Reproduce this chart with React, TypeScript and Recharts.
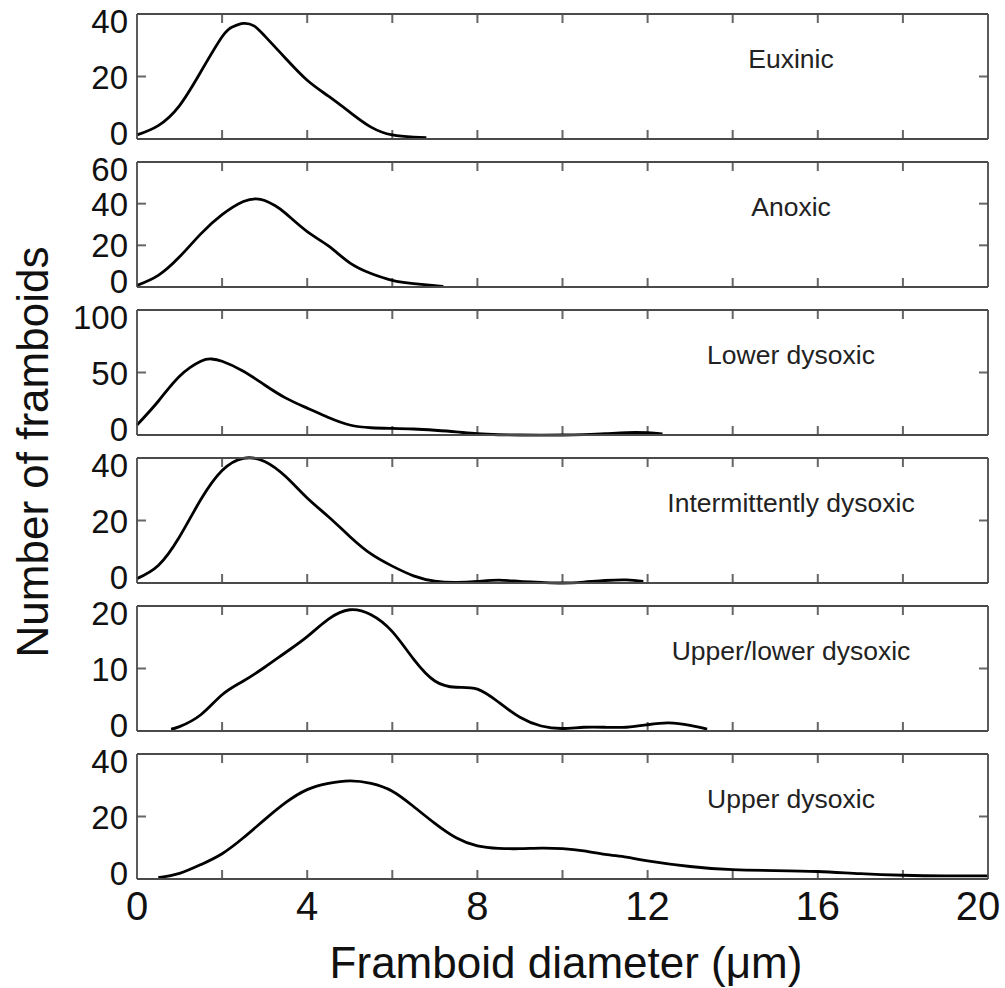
import React from 'react';
import { LineChart, Line, XAxis, YAxis, ReferenceLine } from 'recharts';

// x ticks every 2 µm, labels every 4 µm (bottom panel only)
const xTicks = [0, 2, 4, 6, 8, 10, 12, 14, 16, 18, 20];

// Euxinic
const euxinicX = [0, 0.5, 1, 1.5, 2, 2.25, 2.5, 2.75, 3, 3.5, 4, 4.5, 5, 5.5, 6, 6.5, 6.8];
const euxinicY = [1.3, 4.3, 10.7, 21.5, 32.7, 35.9, 37, 36.2, 33, 25.7, 18.8, 13.7, 8.6, 3.8, 1.3, 0.6, 0.4];

// Anoxic
const anoxicX = [0, 0.5, 1, 1.5, 2, 2.5, 2.8, 3, 3.25, 3.5, 4, 4.5, 5, 5.5, 6, 6.5, 7, 7.2];
const anoxicY = [0.8, 5.6, 14.5, 25.5, 34.7, 41, 42.3, 41.5, 39, 35.2, 26.6, 19.7, 11.6, 6.5, 3.2, 1.6, 0.6, 0.3];

// Lower dysoxic
const lowerX = [0, 0.5, 1, 1.5, 1.75, 2, 2.5, 3, 3.5, 4, 4.5, 5, 5.5, 6, 6.5, 7, 7.5, 8, 8.5, 9, 10, 10.5, 11, 11.5, 12, 12.35];
const lowerY = [8, 27, 47, 59, 60.8, 59, 51, 40, 29.5, 21.5, 14, 8, 5.8, 5.3, 4.8, 3.8, 2.5, 1, 0.2, 0, 0, 0.3, 1, 1.9, 1.8, 0.8];

// Intermittently dysoxic
const intermX = [0, 0.5, 1, 1.5, 2, 2.5, 3, 3.5, 4, 4.5, 5, 5.5, 6, 6.5, 7, 7.5, 8, 8.5, 9, 9.5, 10, 10.5, 11, 11.5, 11.9];
const intermY = [1.4, 5.6, 14.8, 26.7, 36, 39.9, 38.9, 34, 27.2, 21.2, 14.9, 9.3, 5.4, 2.3, 0.6, 0.2, 0.5, 0.9, 0.5, 0.2, 0, 0.3, 0.8, 1.0, 0.5];

// Upper/lower dysoxic
const upperLowerX = [0.8, 1, 1.5, 2, 2.5, 3, 3.5, 4, 4.5, 5, 5.5, 6, 6.5, 7, 7.5, 8, 8.5, 9, 9.5, 10, 10.5, 11, 11.5, 12, 12.5, 13, 13.4];
const upperLowerY = [0.3, 0.7, 2.6, 5.8, 8, 10.2, 12.6, 15.1, 17.9, 19.4, 18.6, 15.9, 11.5, 8, 7, 6.7, 4.6, 2.2, 0.8, 0.4, 0.6, 0.6, 0.6, 1.0, 1.3, 0.9, 0.3];

// Upper dysoxic
const upperX = [0.5, 1, 1.5, 2, 2.5, 3, 3.5, 4, 4.5, 5, 5.5, 6, 6.5, 7, 7.5, 8, 8.5, 9, 9.5, 10, 10.5, 11, 11.5, 12, 13, 14, 15, 16, 17, 18, 19, 20];
const upperY = [0.4, 1.8, 4.6, 8.1, 13.2, 19, 24.5, 28.6, 30.6, 31.4, 30.6, 28.1, 23.2, 17.8, 13.2, 10.6, 9.8, 9.7, 9.9, 9.7, 9, 7.9, 7, 5.8, 4, 3, 2.7, 2.4, 1.7, 1.2, 1, 1];

const panelLabels = ['Euxinic', 'Anoxic', 'Lower dysoxic', 'Intermittently dysoxic', 'Upper/lower dysoxic', 'Upper dysoxic'];
const yMaxes = [40, 60, 100, 40, 20, 40];
const yTickLists = [
  [0, 20, 40],
  [0, 20, 40, 60],
  [0, 50, 100],
  [0, 20, 40],
  [0, 10, 20],
  [0, 20, 40],
];

const toRows = (xs: number[], ys: number[]) => xs.map((x, i) => ({ x, y: ys[i] }));
const series = [
  toRows(euxinicX, euxinicY),
  toRows(anoxicX, anoxicY),
  toRows(lowerX, lowerY),
  toRows(intermX, intermY),
  toRows(upperLowerX, upperLowerY),
  toRows(upperX, upperY),
];

const W = 1005;
const PLOT_LEFT = 137;
const PLOT_RIGHT = 988;
const PANEL_H = 125;
const FIRST_TOP = 14;
const STEP = 148;
const PAD_TOP = 10;
const TICK_LEN = 9;
const FONT = '"Liberation Sans", Arial, sans-serif';
const frame = { stroke: '#4a4a4a', strokeWidth: 1.8 };
const TICK_STROKE = '#666';

const bottomTick = (showLabels: boolean) => (p: any) => {
  const v = p.payload.value;
  if (!showLabels || v % 4 !== 0) return <g />;
  return (
    <text x={v === 20 ? p.x - 10 : p.x} y={p.y + 41} textAnchor="middle" fontSize={40} fontFamily={FONT} fill="#111">
      {v}
    </text>
  );
};

const noTick = () => <g />;

const leftTick = (yMax: number) => (p: any) => {
  const v = p.payload.value;
  const shift = v === yMax ? 7 : v === 0 ? -6 : 0;
  return (
    <text x={p.x - 9} y={p.y + 12 + shift} textAnchor="end" fontSize={33} fontFamily={FONT} fill="#111">
      {v}
    </text>
  );
};

const Panel = ({ index }: { index: number }) => {
  const last = index === series.length - 1;
  const top = FIRST_TOP + index * STEP;
  const extraBottom = last ? 60 : 12;
  const yMax = yMaxes[index];
  // inward tick marks, TICK_LEN px long, expressed in data units of this panel
  const dy = (yMax * TICK_LEN) / PANEL_H;
  const dx = (20 * TICK_LEN) / (PLOT_RIGHT - PLOT_LEFT);
  const innerX = xTicks.filter((t) => t > 0 && t < 20);
  const innerY = yTickLists[index].filter((t) => t > 0 && t < yMax);
  const tickSegs: { x: number; y: number }[][] = [
    ...innerX.map((t) => [{ x: t, y: 0 }, { x: t, y: dy }]),
    ...innerX.map((t) => [{ x: t, y: yMax }, { x: t, y: yMax - dy }]),
    ...innerY.map((t) => [{ x: 0, y: t }, { x: dx, y: t }]),
    ...innerY.map((t) => [{ x: 20, y: t }, { x: 20 - dx, y: t }]),
  ];
  return (
    <>
      <div style={{ position: 'absolute', left: 0, top: top - PAD_TOP }}>
        <LineChart
          width={W}
          height={PAD_TOP + PANEL_H + extraBottom}
          data={series[index]}
          margin={{ top: PAD_TOP - 1, right: W - PLOT_RIGHT - 1, bottom: extraBottom - 1, left: PLOT_LEFT - 60 }}
        >
          <XAxis
            xAxisId="b"
            dataKey="x"
            type="number"
            domain={[0, 20]}
            ticks={xTicks}
            interval={0}
            orientation="bottom"
            height={1}
            tickSize={0}
            tickMargin={0}
            tickLine={false}
            axisLine={frame}
            tick={bottomTick(last)}
          />
          <XAxis
            xAxisId="t"
            dataKey="x"
            type="number"
            domain={[0, 20]}
            ticks={xTicks}
            interval={0}
            orientation="top"
            height={1}
            tickSize={0}
            tickLine={false}
            axisLine={frame}
            tick={noTick}
          />
          <YAxis
            yAxisId="l"
            type="number"
            domain={[0, yMax]}
            ticks={yTickLists[index]}
            interval={0}
            orientation="left"
            width={60}
            tickSize={0}
            tickMargin={0}
            tickLine={false}
            axisLine={frame}
            tick={leftTick(yMax)}
          />
          <YAxis
            yAxisId="r"
            type="number"
            domain={[0, yMax]}
            ticks={yTickLists[index]}
            interval={0}
            orientation="right"
            width={1}
            tickSize={0}
            tickLine={false}
            axisLine={frame}
            tick={noTick}
          />
          {tickSegs.map((seg, i) => (
            <ReferenceLine
              key={i}
              xAxisId="b"
              yAxisId="l"
              segment={seg}
              stroke={TICK_STROKE}
              strokeWidth={2}
              ifOverflow="visible"
            />
          ))}
          <Line
            xAxisId="b"
            yAxisId="l"
            dataKey="y"
            type="natural"
            stroke="#000"
            strokeWidth={2.8}
            dot={false}
            isAnimationActive={false}
          />
        </LineChart>
      </div>
      <div
        style={{
          position: 'absolute',
          left: 791,
          top: top + 44.5,
          transform: 'translate(-50%, -50%)',
          fontSize: 26.5,
          lineHeight: 1,
          whiteSpace: 'nowrap',
          color: '#222',
        }}
      >
        {panelLabels[index]}
      </div>
    </>
  );
};

export default function App() {
  return (
    <div
      style={{
        position: 'absolute',
        left: 0,
        top: 0,
        width: W,
        height: 988,
        overflow: 'hidden',
        background: '#fff',
        fontFamily: FONT,
      }}
    >
      {series.map((_, i) => (
        <Panel key={i} index={i} />
      ))}
      <div
        style={{
          position: 'absolute',
          left: 33,
          top: 452,
          transform: 'translate(-50%, -50%) rotate(-90deg)',
          fontSize: 44,
          lineHeight: 1,
          whiteSpace: 'nowrap',
          color: '#111',
        }}
      >
        Number of framboids
      </div>
      <div
        style={{
          position: 'absolute',
          left: 566,
          top: 941,
          transform: 'translateX(-50%)',
          fontSize: 44,
          lineHeight: 1,
          whiteSpace: 'nowrap',
          color: '#111',
        }}
      >
        Framboid diameter (μm)
      </div>
    </div>
  );
}
